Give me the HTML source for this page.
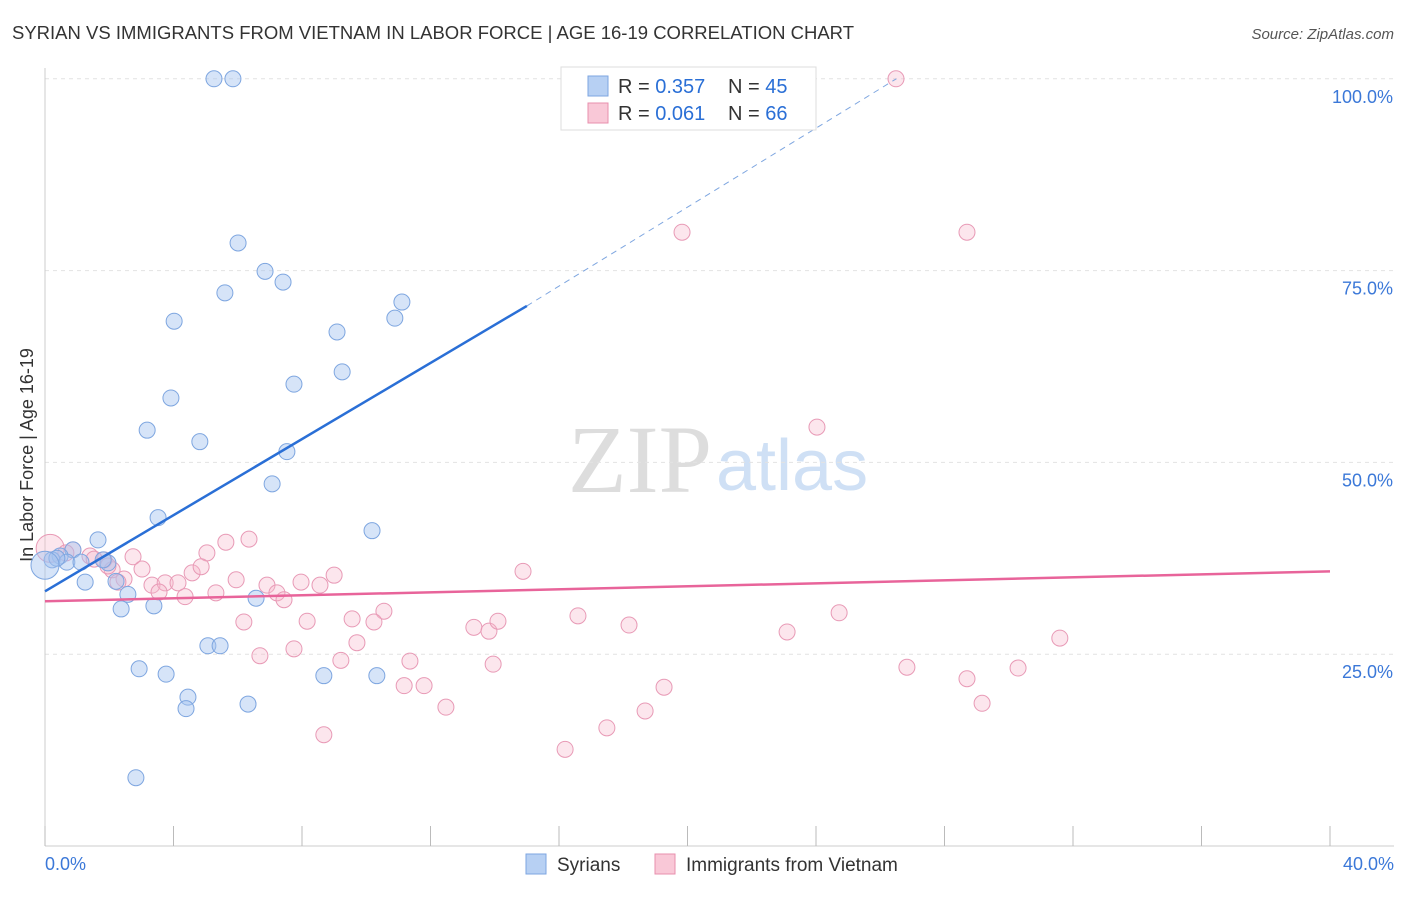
<!DOCTYPE html>
<html><head><meta charset="utf-8"><style>
body{margin:0;background:#fff;font-family:"Liberation Sans",sans-serif}
</style></head><body>
<svg id="c" width="1406" height="892" xmlns="http://www.w3.org/2000/svg" font-family="Liberation Sans, sans-serif">
<text x="12" y="39" font-size="18" fill="#333" textLength="842" lengthAdjust="spacingAndGlyphs">SYRIAN VS IMMIGRANTS FROM VIETNAM IN LABOR FORCE | AGE 16-19 CORRELATION CHART</text>
<text x="1394" y="39" font-size="15" fill="#555" text-anchor="end" font-style="italic">Source: ZipAtlas.com</text>
<text x="33" y="455" font-size="18" fill="#333" text-anchor="middle" transform="rotate(-90 33 455)">In Labor Force | Age 16-19</text>
<text x="712" y="492" font-size="96" fill="#ddd" text-anchor="end" font-family="Liberation Serif, serif">ZIP</text>
<text x="716" y="490" font-size="72" fill="#cfe0f5">atlas</text>
<g id="grid"></g><g id="marks"></g>
<g>
<rect x="561" y="67" width="255" height="63" fill="#fff" stroke="#ddd"/>
<rect x="588" y="76" width="20" height="20" fill="#b7d0f3" stroke="#7ea6e0"/>
<text x="618" y="93" font-size="20" fill="#333">R = <tspan fill="#2a6fd6">0.357</tspan></text>
<text x="728" y="93" font-size="20" fill="#333">N = <tspan fill="#2a6fd6">45</tspan></text>
<rect x="588" y="103" width="20" height="20" fill="#f9c8d7" stroke="#e88fae"/>
<text x="618" y="120" font-size="20" fill="#333">R = <tspan fill="#2a6fd6">0.061</tspan></text>
<text x="728" y="120" font-size="20" fill="#333">N = <tspan fill="#2a6fd6">66</tspan></text>
</g>
<g>
<rect x="526" y="854" width="20" height="20" fill="#b7d0f3" stroke="#7ea6e0"/>
<text x="557" y="871" font-size="19" fill="#333">Syrians</text>
<rect x="655" y="854" width="20" height="20" fill="#f9c8d7" stroke="#e88fae"/>
<text x="686" y="871" font-size="19" fill="#333">Immigrants from Vietnam</text>
</g>
</svg>
<script>
const yTicks=[25,50,75,100];
const yTickLabels=["25.0%","50.0%","75.0%","100.0%"];
const xTicks=[0,4,8,12,16,20,24,28,32,36,40];
const syrX=[5.26,5.85,6.01,6.85,7.41,5.60,4.02,11.11,10.89,9.09,9.25,7.75,3.92,3.18,4.82,7.53,7.07,3.52,10.18,1.65,0.87,0.47,0.22,0.68,1.12,1.96,1.81,1.25,2.21,2.58,6.57,3.39,2.37,5.07,5.45,2.93,3.77,8.68,10.33,4.45,4.39,6.32,2.83,0.37,0];
const syrY=[100,100,78.6,74.9,73.5,72.1,68.4,70.9,68.8,67.0,61.8,60.2,58.4,54.2,52.7,51.4,47.2,42.8,41.1,39.9,38.6,37.8,37.3,37.0,37.0,36.9,37.3,34.4,34.5,32.8,32.3,31.3,30.9,26.1,26.1,23.1,22.4,22.2,22.2,19.4,17.9,18.5,8.9,37.5,36.6];
const vieX=[26.49,19.83,28.70,24.03,0.16,0.87,1.40,1.84,2.74,5.63,6.35,5.04,3.02,2.09,2.46,2.27,3.33,3.74,4.14,3.55,4.36,4.58,4.86,5.95,5.32,6.91,7.22,7.44,7.97,8.56,9.00,6.19,8.16,9.56,10.55,10.24,9.71,6.69,7.75,9.21,11.36,11.18,11.80,12.48,8.68,13.35,13.82,14.10,14.88,16.59,18.18,13.95,16.19,17.49,18.68,19.27,23.10,24.72,26.83,28.70,29.17,30.29,31.59,1.53,1.96,0.65];
const vieY=[100,80.0,80.0,54.6,38.8,38.6,37.8,37.3,37.7,39.6,40.0,38.2,36.1,36.0,34.8,34.4,34.0,34.3,34.3,33.1,32.5,35.6,36.4,34.7,33.0,34.0,33.0,32.1,34.4,34.0,35.3,29.2,29.3,29.6,30.6,29.2,26.5,24.8,25.7,24.2,24.1,20.9,20.9,18.1,14.5,28.5,28.0,29.3,35.8,30.0,28.8,23.7,12.6,15.4,17.6,20.7,27.9,30.4,23.3,21.8,18.6,23.2,27.1,37.4,36.5,38.2];
const syrLine=[[0,33.2],[15,70.4],[26.5,100]];
const vieLine=[[0,31.9],[40,35.8]];
const NS="http://www.w3.org/2000/svg";
const X=v=>45+v*32.125, Y=v=>846-v*7.672;
function mk(t,a,p){const e=document.createElementNS(NS,t);for(const k in a)e.setAttribute(k,a[k]);p.appendChild(e);return e;}
const g=document.getElementById('grid'),m=document.getElementById('marks');
yTicks.forEach((t,i)=>{
 const l=mk('line',{x1:45,x2:1394,y1:Y(t),y2:Y(t),stroke:'#e2e2e2','stroke-dasharray':'4,4'},g);
 
 
 const tx=mk('text',{x:1393,y:Y(t)+24,'font-size':18,fill:'#3b78d8','text-anchor':'end'},g);
 tx.textContent=yTickLabels[i];
 
 
});
const ax=mk('line',{x1:45,x2:1394,y1:846,y2:846,stroke:'#ccc'},g);


const ay=mk('line',{x1:45,x2:45,y1:68,y2:846,stroke:'#ccc'},g);


xTicks.forEach(t=>{
 const l=mk('line',{x1:X(t),x2:X(t),y1:826,y2:846,stroke:'#bbb'},g);
 
 
});
[[0,'0.0%','start',45],[40,'40.0%','end',1394]].forEach(d=>{
 const tx=mk('text',{x:d[3],y:870,'font-size':18,fill:'#3b78d8','text-anchor':d[2]},g);
 tx.textContent=d[1];
 
 
});
function pts(xs,ys,fill,stroke,name,bigIdx){
 xs.forEach((x,i)=>{
  const c=mk('circle',{cx:X(x),cy:Y(ys[i]),r:i===bigIdx?14:8,fill:fill,stroke:stroke,'stroke-width':1},m);
  
  
 });
}
pts(vieX,vieY,'rgba(246,182,204,0.35)','#e89ab6','vietnam-point',4);
pts(syrX,syrY,'rgba(164,196,240,0.45)','#7ea6e0','syrian-point',44);
const s1=mk('line',{x1:X(syrLine[0][0]),y1:Y(syrLine[0][1]),x2:X(syrLine[1][0]),y2:Y(syrLine[1][1]),stroke:'#2a6fd6','stroke-width':2.5},m);


const s2=mk('line',{x1:X(syrLine[1][0]),y1:Y(syrLine[1][1]),x2:X(syrLine[2][0]),y2:Y(syrLine[2][1]),stroke:'#7ea6e0','stroke-width':1,'stroke-dasharray':'6,5'},m);


const v1=mk('line',{x1:X(vieLine[0][0]),y1:Y(vieLine[0][1]),x2:X(vieLine[1][0]),y2:Y(vieLine[1][1]),stroke:'#e8649a','stroke-width':2.5},m);


</script>
</body></html>
